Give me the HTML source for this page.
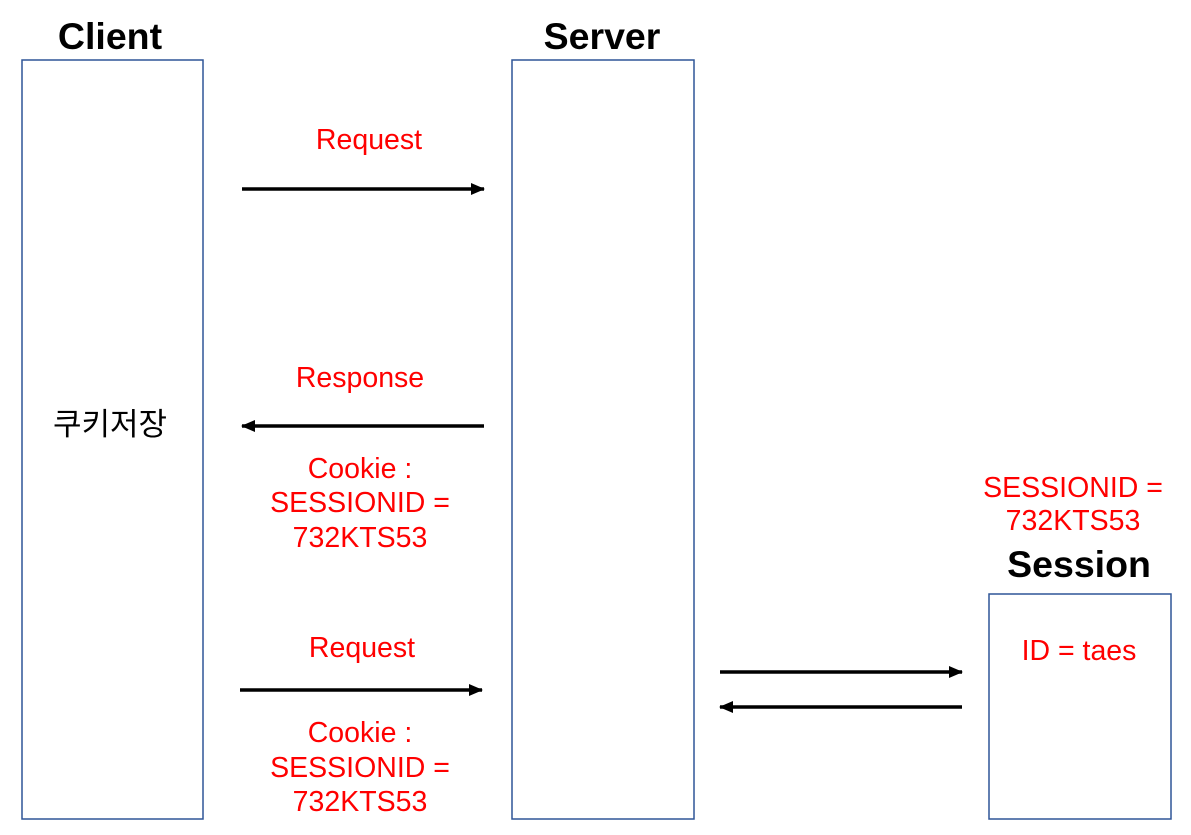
<!DOCTYPE html>
<html><head><meta charset="utf-8"><style>html,body{margin:0;padding:0;background:#fff}</style></head>
<body>
<svg width="1191" height="835" xmlns="http://www.w3.org/2000/svg" style="display:block">
<defs>
<marker id="a" markerWidth="14" markerHeight="12" refX="13" refY="6" orient="auto" markerUnits="userSpaceOnUse">
<path d="M0,0 L14,6 L0,12 z" fill="#000"/></marker>
</defs>
<g fill="none" stroke="#2F5597" stroke-width="1.5">
<rect x="22" y="60" width="181" height="759"/>
<rect x="512" y="60" width="182" height="759"/>
<rect x="989" y="594" width="182" height="225"/>
</g>
<g font-family="Liberation Sans, sans-serif" font-weight="bold" font-size="37.5" text-anchor="middle" fill="#000">
<text x="110" y="49">Client</text>
<text x="602" y="49">Server</text>
<text x="1079" y="577">Session</text>
</g>
<text x="110" y="435" font-family="Liberation Sans, 'Noto Sans CJK KR', sans-serif" font-size="31" text-anchor="middle">쿠키저장</text>
<g stroke="#000" stroke-width="3.5" marker-end="url(#a)">
<line x1="242" y1="189" x2="484" y2="189"/>
<line x1="484" y1="426" x2="242" y2="426"/>
<line x1="240" y1="690" x2="482" y2="690"/>
<line x1="720" y1="672" x2="962" y2="672"/>
<line x1="962" y1="707" x2="720" y2="707"/>
</g>
<g font-family="Liberation Sans, sans-serif" font-size="28.5" text-anchor="middle" fill="#FF0000">
<text x="369" y="149">Request</text>
<text x="360" y="387">Response</text>
<text x="360" y="478">Cookie :</text>
<text x="360" y="512">SESSIONID =</text>
<text x="360" y="547">732KTS53</text>
<text x="362" y="657">Request</text>
<text x="360" y="742">Cookie :</text>
<text x="360" y="777">SESSIONID =</text>
<text x="360" y="811">732KTS53</text>
<text x="1073" y="497">SESSIONID =</text>
<text x="1073" y="530">732KTS53</text>
<text x="1079" y="660">ID = taes</text>
</g>
</svg>
</body></html>
